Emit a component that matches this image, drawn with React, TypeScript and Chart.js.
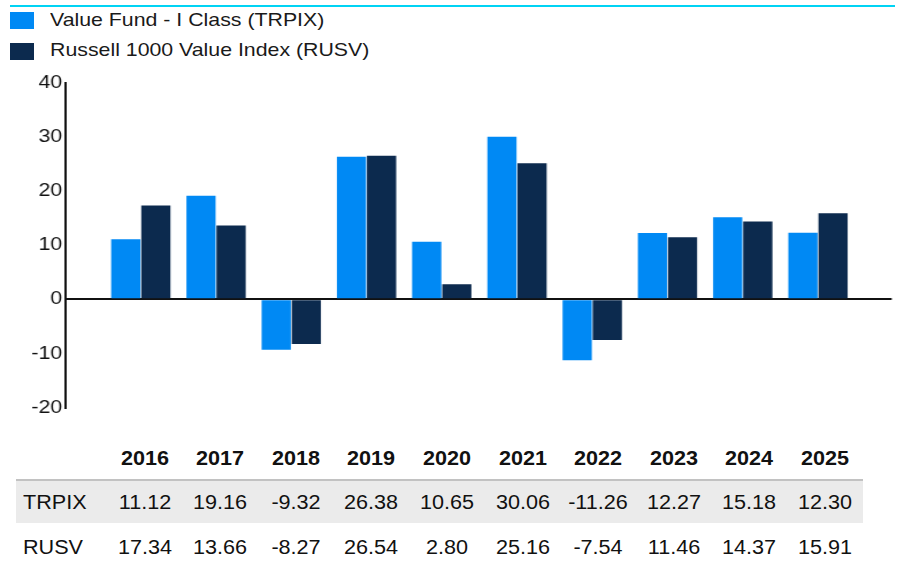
import React, { useEffect, useRef } from "react";
import { Chart, registerables } from "chart.js";

Chart.register(...registerables);

const years = ["2016", "2017", "2018", "2019", "2020", "2021", "2022", "2023", "2024", "2025"];
const trpix = [11.12, 19.16, -9.32, 26.38, 10.65, 30.06, -11.26, 12.27, 15.18, 12.3];
const rusv = [17.34, 13.66, -8.27, 26.54, 2.8, 25.16, -7.54, 11.46, 14.37, 15.91];
const seriesNames = ["Value Fund - I Class (TRPIX)", "Russell 1000 Value Index (RUSV)"];
const rowLabels = ["TRPIX", "RUSV"];
const yTicks = [-20, -10, 0, 10, 20, 30, 40];

const COLOR_A = "#0089F4";
const COLOR_B = "#0C2A4E";
const FONT = "'Liberation Sans', Arial, sans-serif";
const STRETCH = 1.15;
const CANVAS_W = 780;
const CANVAS_H = 430;

export default function App() {
  const ref = useRef<HTMLCanvasElement | null>(null);

  useEffect(() => {
    if (!ref.current) return;
    const chart = new Chart(ref.current, {
      type: "bar",
      data: {
        datasets: [
          {
            label: seriesNames[0],
            data: trpix.map((v, i) => ({ x: i, y: v })),
            backgroundColor: COLOR_A,
            categoryPercentage: 0.8,
            barPercentage: 0.97,
          },
          {
            label: seriesNames[1],
            data: rusv.map((v, i) => ({ x: i, y: v })),
            backgroundColor: COLOR_B,
            categoryPercentage: 0.8,
            barPercentage: 0.97,
          },
        ],
      },
      options: {
        animation: false,
        responsive: false,
        maintainAspectRatio: false,
        layout: { padding: { top: 83, bottom: 22.5, left: 0, right: 4.6 } },
        plugins: { legend: { display: false }, tooltip: { enabled: false } },
        scales: {
          x: {
            type: "linear",
            min: -1.0,
            max: 9.98,
            offset: false,
            display: false,
            grid: { display: false, offset: false },
          },
          y: {
            min: -20,
            max: 40,
            afterBuildTicks: (s: any) => {
              s.ticks = yTicks.map((v) => ({ value: v }));
            },
            afterFit: (s: any) => {
              s.width = 57;
            },
            ticks: {
              font: { family: "'Liberation Sans', Arial, sans-serif", size: 18.5 },
              color: "#111",
              padding: 3,
            },
            border: { display: true, color: "#111", width: 2 },
            grid: {
              drawTicks: false,
              tickLength: 0,
              lineWidth: 2,
              color: (ctx: any) => (ctx.tick && ctx.tick.value === 0 ? "#111" : "rgba(0,0,0,0)"),
            },
          },
        },
      },
    });
    return () => chart.destroy();
  }, []);

  const colX = (i: number) => 144.5 + i * 75.6;

  const legendText: React.CSSProperties = {
    position: "absolute",
    fontFamily: FONT,
    fontSize: 18.6,
    color: "#1a1a1a",
    lineHeight: "20px",
    whiteSpace: "nowrap",
    transform: "scaleX(1.146)",
    transformOrigin: "0 0",
  };

  const tableText: React.CSSProperties = {
    position: "absolute",
    fontFamily: FONT,
    fontSize: 20,
    color: "#111",
    lineHeight: "20px",
    whiteSpace: "nowrap",
    transform: "scaleX(1.08)",
  };

  return (
    <div style={{ position: "fixed", left: 0, top: 0, width: 897, height: 563, background: "#fff", overflow: "hidden" }}>
      <div style={{ position: "absolute", left: 10, top: 5, width: 885, height: 2, background: "#00D3F4" }} />
      {seriesNames.map((n, k) => (
        <React.Fragment key={n}>
          <div
            style={{
              position: "absolute",
              left: 10,
              top: 12 + k * 30.5,
              width: 24,
              height: 17,
              background: k === 0 ? COLOR_A : COLOR_B,
            }}
          />
          <div style={{ ...legendText, left: 50, top: 10 + k * 30 }}>{n}</div>
        </React.Fragment>
      ))}
      <canvas
        ref={ref}
        width={CANVAS_W}
        height={CANVAS_H}
        style={{
          position: "absolute",
          left: 0,
          top: 0,
          width: CANVAS_W,
          height: CANVAS_H,
          transform: `scaleX(${STRETCH})`,
          transformOrigin: "0 0",
        }}
      />
      {years.map((y, i) => (
        <div
          key={y}
          style={{
            ...tableText,
            fontWeight: "bold",
            left: colX(i) - 40,
            width: 80,
            textAlign: "center",
            top: 447.5,
          }}
        >
          {y}
        </div>
      ))}
      <div
        style={{
          position: "absolute",
          left: 16,
          top: 479,
          width: 847,
          height: 44,
          background: "#EBEBEB",
          borderTop: "2px solid #C2C2C2",
          boxSizing: "border-box",
        }}
      />
      {[trpix, rusv].map((row, r) => (
        <React.Fragment key={rowLabels[r]}>
          <div style={{ ...tableText, left: 23, top: 492 + r * 45, transformOrigin: "0 0" }}>{rowLabels[r]}</div>
          {row.map((v, i) => (
            <div
              key={i}
              style={{
                ...tableText,
                left: colX(i) - 40,
                width: 80,
                textAlign: "center",
                top: 492 + r * 45,
              }}
            >
              {v.toFixed(2)}
            </div>
          ))}
        </React.Fragment>
      ))}
    </div>
  );
}
